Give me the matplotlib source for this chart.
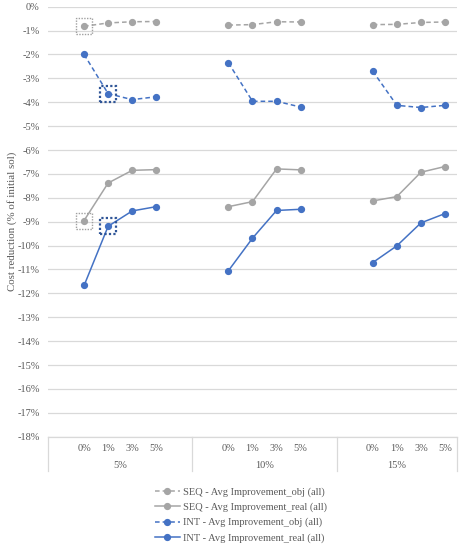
import matplotlib
matplotlib.use("Agg")
import matplotlib.pyplot as plt
import matplotlib.transforms as mtransforms
from matplotlib.patches import Rectangle

# ---- data ----
cats = ['0%', '1%', '3%', '5%']
groups = ['5%', '10%', '15%']
seq_obj = [[-0.82, -0.68, -0.63, -0.62],
           [-0.77, -0.75, -0.63, -0.64],
           [-0.75, -0.74, -0.66, -0.64]]
seq_real = [[-8.95, -7.38, -6.85, -6.82],
            [-8.37, -8.16, -6.79, -6.83],
            [-8.13, -7.95, -6.93, -6.69]]
int_obj = [[-2.00, -3.64, -3.89, -3.77],
           [-2.35, -3.96, -3.96, -4.20],
           [-2.70, -4.13, -4.22, -4.13]]
int_real = [[-11.67, -9.19, -8.55, -8.37],
            [-11.05, -9.69, -8.53, -8.48],
            [-10.71, -10.01, -9.05, -8.66]]
series_names = ['SEQ - Avg Improvement_obj (all)',
                'SEQ - Avg Improvement_real (all)',
                'INT - Avg Improvement_obj (all)',
                'INT - Avg Improvement_real (all)']
yticks = list(range(0, -19, -1))
# highlighted points: (series index, group index, category index)
highlights = [(0, 0, 0), (1, 0, 0), (2, 0, 1), (3, 0, 1)]

plt.rcParams['font.family'] = ['Liberation Serif', 'DejaVu Serif']
GRAY = '#A5A5A5'
BLUE = '#4472C4'
DARKBLUE = '#2F5597'
TXT = '#595959'
GRID = '#D9D9D9'

fig = plt.figure(figsize=(4.64, 5.5), dpi=100)
ax = fig.add_axes([48/464, 1-436.7/550, (457-48)/464, (436.7-6.7)/550])

slots_per_group = 6
def xpos(g, c):
    return g * slots_per_group + 1 + c

all_series = [seq_obj, seq_real, int_obj, int_real]
colors = [GRAY, GRAY, BLUE, BLUE]
dashed = [True, False, True, False]

handles = []
for s, data in enumerate(all_series):
    for g in range(len(groups)):
        xs = [xpos(g, c) for c in range(len(cats))]
        kw = dict(color=colors[s], lw=1.1, marker='o', ms=4.2,
                  markerfacecolor=colors[s], markeredgecolor=colors[s], zorder=3)
        if dashed[s]:
            ln, = ax.plot(xs, data[g], ls=(0, (3, 2)), **kw)
        else:
            ln, = ax.plot(xs, data[g], ls='-', **kw)
        if g == 0:
            ln.set_label(series_names[s])
            handles.append(ln)

# highlight boxes
bw, bh = 0.67, 0.67
for s, g, c in highlights:
    val = all_series[s][g][c]
    if s < 2:
        ec, lw = '#A0A0A0', 1.0
    else:
        ec, lw = DARKBLUE, 1.6
    ax.add_patch(Rectangle((xpos(g, c) - bw/2, val - bh/2), bw, bh,
                           fill=False, ec=ec, lw=lw, ls=(0, (1, 1)), zorder=4))

ax.set_xlim(-0.5, len(groups) * slots_per_group - 1 - 0.5)
ax.set_ylim(-18, 0)
ax.set_yticks(yticks)
ax.set_yticklabels([f'{t}%' for t in yticks], color=TXT, fontsize=7.5)
ax.tick_params(axis='y', length=0, pad=6)
ax.set_xticks([])
ax.grid(axis='y', color=GRID, lw=0.9)
ax.set_axisbelow(True)
for sp in ['top', 'right', 'left']:
    ax.spines[sp].set_visible(False)
ax.spines['bottom'].set_color(GRID)
ax.spines['bottom'].set_linewidth(0.9)

ax.set_ylabel('Cost reduction (% of initial sol)', color=TXT, fontsize=7.8, labelpad=0)

# multi-level category axis
trans = mtransforms.blended_transform_factory(ax.transData, ax.transAxes)
h_ax = 430.0
for g in range(len(groups)):
    for c, lab in enumerate(cats):
        ax.text(xpos(g, c), -12/h_ax, lab, transform=trans, ha='center', va='center',
                fontsize=7.5, color=TXT)
    left = g * slots_per_group - 0.5
    right = min((g + 1) * slots_per_group - 0.5, len(groups) * slots_per_group - 1.5)
    ax.text((left + right) / 2, -29/h_ax, groups[g], transform=trans, ha='center',
            va='center', fontsize=7.5, color=TXT)
bounds = [g * slots_per_group - 0.5 for g in range(len(groups))] + \
         [len(groups) * slots_per_group - 1.5]
for b in bounds:
    ax.plot([b, b], [0, -34/h_ax], transform=trans, color=GRID, lw=0.9, clip_on=False)

fig.legend(handles=handles, loc='center', bbox_to_anchor=(241/464, 1-515/550),
           frameon=False, fontsize=7.5, handlelength=2.4, handletextpad=0.3,
           labelspacing=0.55, labelcolor=TXT)

fig.savefig('out.png', dpi=100)
